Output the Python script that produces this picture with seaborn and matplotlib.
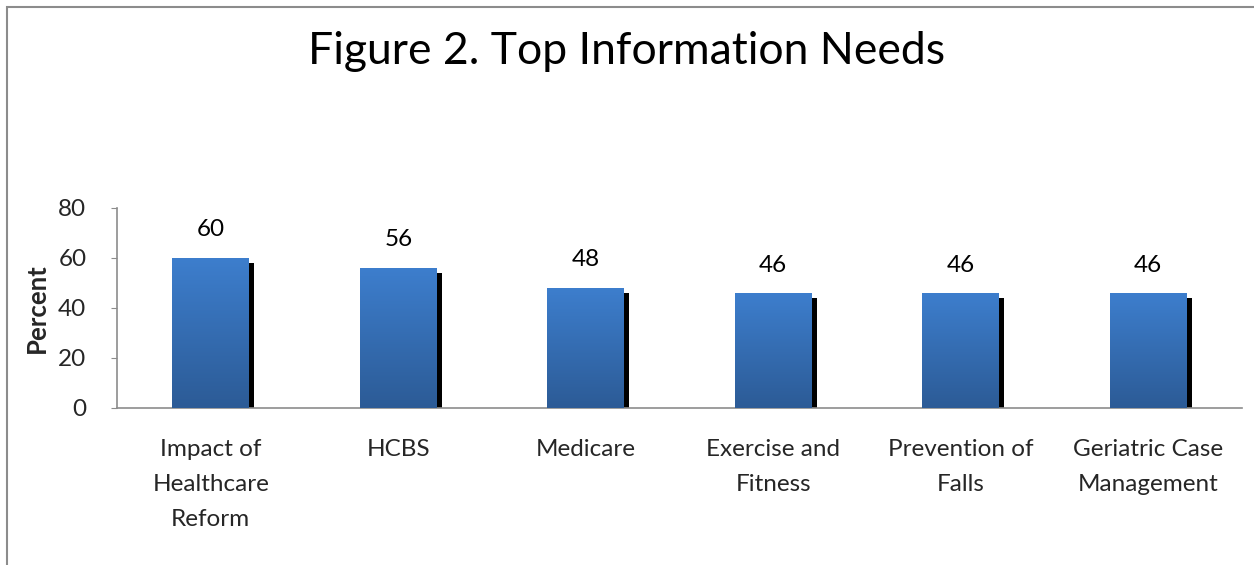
import numpy as np
import pandas as pd
import matplotlib
matplotlib.use("Agg")
import matplotlib.pyplot as plt
import matplotlib.patheffects as pe
from matplotlib.patches import Rectangle
import seaborn as sns

NEEDS = [
    "Impact of\nHealthcare\nReform",
    "HCBS",
    "Medicare",
    "Exercise and\nFitness",
    "Prevention of\nFalls",
    "Geriatric Case\nManagement",
]
PERCENT = [60, 56, 48, 46, 46, 46]
Y_TICKS = [0, 20, 40, 60, 80]

TOP_BLUE = "#3D7ECD"
BOTTOM_BLUE = "#2C5B96"
AXIS_GRAY = "#8C8C8C"

sns.set_theme(style="white")
plt.rcParams["font.family"] = ["Lato", "DejaVu Sans"]

df = pd.DataFrame({"need": NEEDS, "percent": PERCENT})

fig = plt.figure(figsize=(12.54, 5.65), dpi=100)
ax = fig.add_axes([117 / 1254, 157 / 565, 1125 / 1254, 200 / 565])

sns.barplot(data=df, x="need", y="percent", color=TOP_BLUE, saturation=1,
            width=0.41, ax=ax, zorder=2)

# black drop shadow + vertical gradient fill on each bar
grad = np.linspace(0, 1, 256).reshape(-1, 1)
cmap = matplotlib.colors.LinearSegmentedColormap.from_list("bar", [BOTTOM_BLUE, TOP_BLUE])
for bar in ax.patches:
    bar.set_linewidth(0)
    bar.set_path_effects([
        pe.SimplePatchShadow(offset=(3.6, -3.6), shadow_rgbFace="black", alpha=1.0),
        pe.Normal(),
    ])
    x0, y0 = bar.get_x(), bar.get_y()
    w, h = bar.get_width(), bar.get_height()
    img = ax.imshow(grad, extent=[x0, x0 + w, y0, y0 + h], origin="lower",
                    cmap=cmap, aspect="auto", zorder=3)
    img.set_clip_path(bar)
    ax.text(x0 + w / 2, h + 7, f"{h:.0f}", ha="center", va="bottom",
            fontsize=17.5, color="black")

ax.set_xlim(-0.5, len(NEEDS) - 0.5)
ax.set_ylim(0, 80)
ax.set_yticks(Y_TICKS)
ax.set_xlabel("")
ax.set_ylabel("Percent", fontsize=18.5, fontweight="bold", labelpad=7)
ax.tick_params(axis="y", labelsize=17.5, length=4, width=0.8, color=AXIS_GRAY,
               direction="out", pad=18, left=True)
ax.tick_params(axis="x", labelsize=17.5, length=0, pad=22)
for lbl in ax.get_xticklabels():
    lbl.set_linespacing(1.85)
    lbl.set_va("top")

for side in ["top", "right"]:
    ax.spines[side].set_visible(False)
for side in ["left", "bottom"]:
    ax.spines[side].set_color(AXIS_GRAY)
    ax.spines[side].set_linewidth(1.2)

fig.text(0.5, 1 - 52 / 565, "Figure 2. Top Information Needs", ha="center",
         va="center", fontsize=32, color="black")

# chart frame (only top and left edges are visible in the crop)
fig.patches.append(Rectangle((7 / 1254, -0.1), 1.2, 558 / 565 + 0.1,
                             transform=fig.transFigure, fill=False,
                             edgecolor=AXIS_GRAY, linewidth=1.5))

fig.savefig("out.png", dpi=100)
